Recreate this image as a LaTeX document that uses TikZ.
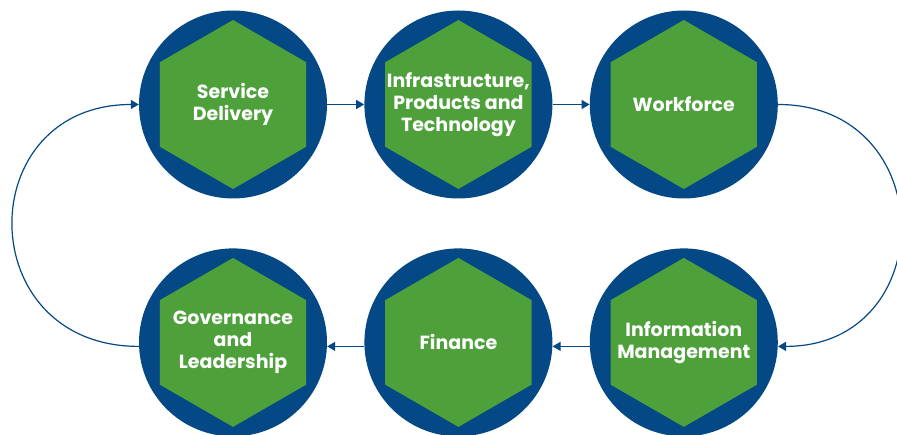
\documentclass[tikz,border=0pt]{standalone}
\usepackage{fontspec}
\setmainfont{Poppins}
\usetikzlibrary{shapes,arrows.meta,positioning}
\definecolor{navy}{HTML}{044885}
\definecolor{leaf}{HTML}{4DA03A}

\begin{document}
\begin{tikzpicture}[% styles shared by all the blocks
					x=1pt,y=1pt,
					disc/.style={circle,fill=navy,minimum size=188pt,inner sep=0pt},	% blue round backing
					hexa/.style={regular polygon,regular polygon sides=6,shape border rotate=30,
						fill=leaf,minimum size=169pt,inner sep=0pt},		% green hexagon on top
					txt/.style={align=center,text=white,font=\bfseries\fontsize{19}{22}\selectfont},
					node distance=49.5pt and 37pt,
					>={Triangle[length=8pt,width=9pt]},
					every edge/.style={draw=navy,line width=1.2pt}
					]
\useasboundingbox (0,0) rectangle (897,434);
\node[disc](C1) at (233,329.5){};
\node[disc](C2)[right= of C1]{};
\node[disc](C3)[right= of C2]{};
\node[disc](C4)[below= of C3]{};
\node[disc](C5)[left= of C4]{};
\node[disc](C6)[left= of C5]{};
\node[hexa,label={[txt]center:{Service\\Delivery}}](H1) at (C1){};
\node[hexa,label={[txt]center:{Infrastructure,\\Products and\\Technology}}](H2) at (C2){};
\node[hexa,label={[txt]center:{Workforce}}](H3) at (C3){};
\node[hexa,label={[txt]center:{Information\\Management}}](H4) at (C4){};
\node[hexa,label={[txt]center:{Finance}}](H5) at (C5){};
\node[hexa,label={[txt]center:{Governance\\and\\Leadership}}](H6) at (C6){};
\path[->]
(C1)edge []	(C2)
(C2)edge []	(C3)
([yshift=-4pt]C4.west)edge []	([yshift=-4pt]C5.east)
([yshift=-4pt]C5.west)edge []	([yshift=-4pt]C6.east)
(C3.east)edge [out=0,in=0,looseness=1.73]	([yshift=-4pt]C4.east)
([yshift=-4pt]C6.west)edge [out=180,in=180,looseness=1.78]	(C1.west)
;
\end{tikzpicture}
\end{document}
